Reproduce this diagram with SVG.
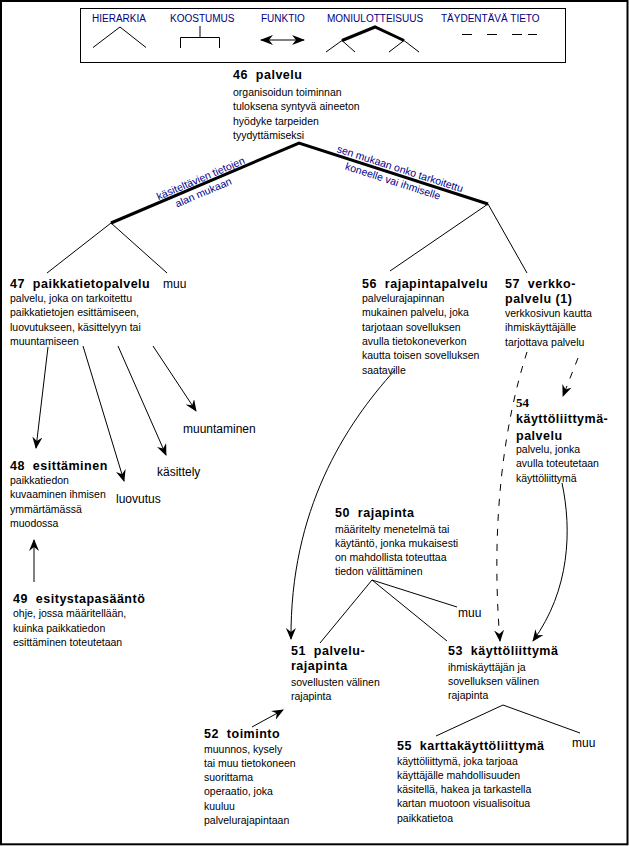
<svg xmlns="http://www.w3.org/2000/svg" width="629" height="846" viewBox="0 0 629 846" xml:space="preserve">
<style>
text{font-family:"Liberation Sans",Arial,sans-serif;font-size:10.5px;fill:#000;white-space:pre}
.h{font-weight:bold;font-size:12.5px;letter-spacing:0.5px}
.hs{font-family:"Liberation Serif","Times New Roman",serif;font-weight:bold;font-size:13px}
.l{font-size:12px}
.lg{font-size:10px;fill:#000080}
.rot{fill:#00008b}
.c{fill:none;stroke:#000;stroke-width:1}
.k{fill:none;stroke:#000;stroke-width:3;stroke-linejoin:miter}
.a{marker-end:url(#ah)}
.d{stroke-dasharray:7 8}
</style>
<defs>
<marker id="ah" viewBox="0 0 12 10" refX="11" refY="5" markerWidth="12" markerHeight="10" markerUnits="userSpaceOnUse" orient="auto"><path d="M0,0 L12,5 L0,10 L4,5 Z" fill="#000"/></marker>
<marker id="ah2" viewBox="0 0 13 10" refX="12" refY="5" markerWidth="13" markerHeight="10" markerUnits="userSpaceOnUse" orient="auto-start-reverse"><path d="M0,0 L13,5 L0,10 L4,5 Z" fill="#000"/></marker>
</defs>
<rect x="1" y="1" width="626.5" height="843.3" fill="#fff" stroke="#000" stroke-width="2"/>
<g id="legend">
<rect x="80.5" y="8.5" width="485" height="54" fill="none" stroke="#000" stroke-width="1"/>
<text class="lg" x="92" y="21.5">HIERARKIA</text>
<text class="lg" x="170" y="21.5">KOOSTUMUS</text>
<text class="lg" x="261" y="21.5">FUNKTIO</text>
<text class="lg" x="327" y="21.5">MONIULOTTEISUUS</text>
<text class="lg" x="441" y="21.5">TÄYDENTÄVÄ TIETO</text>
<polyline class="c" points="93,47.5 120,27 146,47.5"/>
<path class="c" d="M200,26 V37.5 M180.5,48 V37.5 H219.5 V48"/>
<line class="c" x1="261" y1="40" x2="304" y2="40" stroke-width="1.2" marker-start="url(#ah2)" marker-end="url(#ah2)"/>
<polyline class="k" points="342,40.5 375,27 404,40.5"/>
<polyline class="c" points="326,52 342,40.5 355,52"/>
<polyline class="c" points="389,52 404,40.5 419,52"/>
<path class="c" d="M462,34.5 H472 M487,34.5 H497 M512,34.5 H522 M528,34.5 H537"/>
</g>
<g id="connectors">
<polyline class="k" points="111,223 299,143 488,204"/>
<g transform="translate(203,184) rotate(-23.05)">
<text class="rot" x="0" y="-2.5" text-anchor="middle">käsiteltävien tietojen</text>
<text class="rot" x="-3" y="11.5" text-anchor="middle">alan mukaan</text>
</g>
<g transform="translate(398,175) rotate(17.88)">
<text class="rot" x="0" y="-3" text-anchor="middle">sen mukaan onko tarkoitettu</text>
<text class="rot" x="-3" y="11" text-anchor="middle">koneelle vai ihmiselle</text>
</g>
<polyline class="c" points="47,273 111,223 167,273"/>
<polyline class="c" points="390,271 488,204 527,273"/>
<line class="c a" x1="48" y1="347" x2="36" y2="448"/>
<line class="c a" x1="83" y1="346" x2="124" y2="481"/>
<line class="c a" x1="118" y1="346" x2="166" y2="455"/>
<line class="c a" x1="153" y1="346" x2="196" y2="411"/>
<line class="c a" x1="34" y1="582" x2="34" y2="540"/>
<path class="c a" d="M395,370 C345,425 290,510 291,639"/>
<path class="c d a" d="M527,352 C505,420 490,520 500,641"/>
<line class="c d a" x1="578" y1="358" x2="563" y2="396"/>
<path class="c a" d="M562,483 C572,530 570,590 533,641"/>
<line class="c a" x1="252" y1="727" x2="283" y2="710"/>
<polyline class="c" points="320,643 372,580 447,641"/>
<line class="c" x1="372" y1="580" x2="457" y2="607"/>
<polyline class="c" points="436,736 503,705 580,733"/>
</g>
<g id="n46">
<text class="h" x="233" y="79">46  palvelu</text>
<text x="233" y="96">organisoidun toiminnan</text>
<text x="233" y="110.3">tuloksena syntyvä aineeton</text>
<text x="233" y="124.6">hyödyke tarpeiden</text>
<text x="233" y="138.9">tyydyttämiseksi</text>
</g>
<g id="n47">
<text class="h" x="10" y="288">47  paikkatietopalvelu</text>
<text x="10" y="302">palvelu, joka on tarkoitettu</text>
<text x="10" y="316.3">paikkatietojen esittämiseen,</text>
<text x="10" y="330.6">luovutukseen, käsittelyyn tai</text>
<text x="10" y="344.9">muuntamiseen</text>
</g>
<g id="muu47"><text class="l" x="163" y="288">muu</text></g>
<g id="n56">
<text class="h" x="362" y="288">56  rajapintapalvelu</text>
<text x="362" y="302">palvelurajapinnan</text>
<text x="362" y="316.3">mukainen palvelu, joka</text>
<text x="362" y="330.6">tarjotaan sovelluksen</text>
<text x="362" y="344.9">avulla tietokoneverkon</text>
<text x="362" y="359.2">kautta toisen sovelluksen</text>
<text x="362" y="373.5">saataville</text>
</g>
<g id="n57">
<text class="h" x="505" y="288">57  verkko-</text>
<text class="h" x="505" y="303">palvelu (1)</text>
<text x="505" y="317">verkkosivun kautta</text>
<text x="505" y="331.3">ihmiskäyttäjälle</text>
<text x="505" y="345.6">tarjottava palvelu</text>
</g>
<g id="muuntaminen"><text class="l" x="183" y="433">muuntaminen</text></g>
<g id="kasittely"><text class="l" x="157" y="476">käsittely</text></g>
<g id="luovutus"><text class="l" x="116" y="502.5">luovutus</text></g>
<g id="n48">
<text class="h" x="10" y="470">48  esittäminen</text>
<text x="10" y="484">paikkatiedon</text>
<text x="10" y="498.4">kuvaaminen ihmisen</text>
<text x="10" y="512.8">ymmärtämässä</text>
<text x="10" y="527.2">muodossa</text>
</g>
<g id="n49">
<text class="h" x="13" y="603">49  esitystapasääntö</text>
<text x="13" y="617.3">ohje, jossa määritellään,</text>
<text x="13" y="631.6">kuinka paikkatiedon</text>
<text x="13" y="645.9">esittäminen toteutetaan</text>
</g>
<g id="n54">
<text class="hs" x="516" y="406.5">54</text>
<text class="h" x="516" y="423.3">käyttöliittymä-</text>
<text class="h" x="516" y="440">palvelu</text>
<text x="516" y="453">palvelu, jonka</text>
<text x="516" y="467.3">avulla toteutetaan</text>
<text x="516" y="481.6">käyttöliittymä</text>
</g>
<g id="n50">
<text class="h" x="335" y="517">50  rajapinta</text>
<text x="335" y="532.5">määritelty menetelmä tai</text>
<text x="335" y="546.8">käytäntö, jonka mukaisesti</text>
<text x="335" y="561.1">on mahdollista toteuttaa</text>
<text x="335" y="575.4">tiedon välittäminen</text>
</g>
<g id="muu50"><text class="l" x="458" y="616.5">muu</text></g>
<g id="n51">
<text class="h" x="291" y="655">51  palvelu-</text>
<text class="h" x="291" y="670">rajapinta</text>
<text x="291" y="685.5">sovellusten välinen</text>
<text x="291" y="699.8">rajapinta</text>
</g>
<g id="n53">
<text class="h" x="448" y="655">53  käyttöliittymä</text>
<text x="448" y="670.5">ihmiskäyttäjän ja</text>
<text x="448" y="684.8">sovelluksen välinen</text>
<text x="448" y="699.1">rajapinta</text>
</g>
<g id="n52">
<text class="h" x="204" y="738">52  toiminto</text>
<text x="204" y="752.5">muunnos, kysely</text>
<text x="204" y="766.8">tai muu tietokoneen</text>
<text x="204" y="781.1">suorittama</text>
<text x="204" y="795.4">operaatio, joka</text>
<text x="204" y="809.7">kuuluu</text>
<text x="204" y="824">palvelurajapintaan</text>
</g>
<g id="n55">
<text class="h" x="397" y="750">55  karttakäyttöliittymä</text>
<text x="397" y="764.5">käyttöliittymä, joka tarjoaa</text>
<text x="397" y="778.8">käyttäjälle mahdollisuuden</text>
<text x="397" y="793.1">käsitellä, hakea ja tarkastella</text>
<text x="397" y="807.4">kartan muotoon visualisoitua</text>
<text x="397" y="821.7">paikkatietoa</text>
</g>
<g id="muu55"><text class="l" x="572" y="747">muu</text></g>
</svg>
